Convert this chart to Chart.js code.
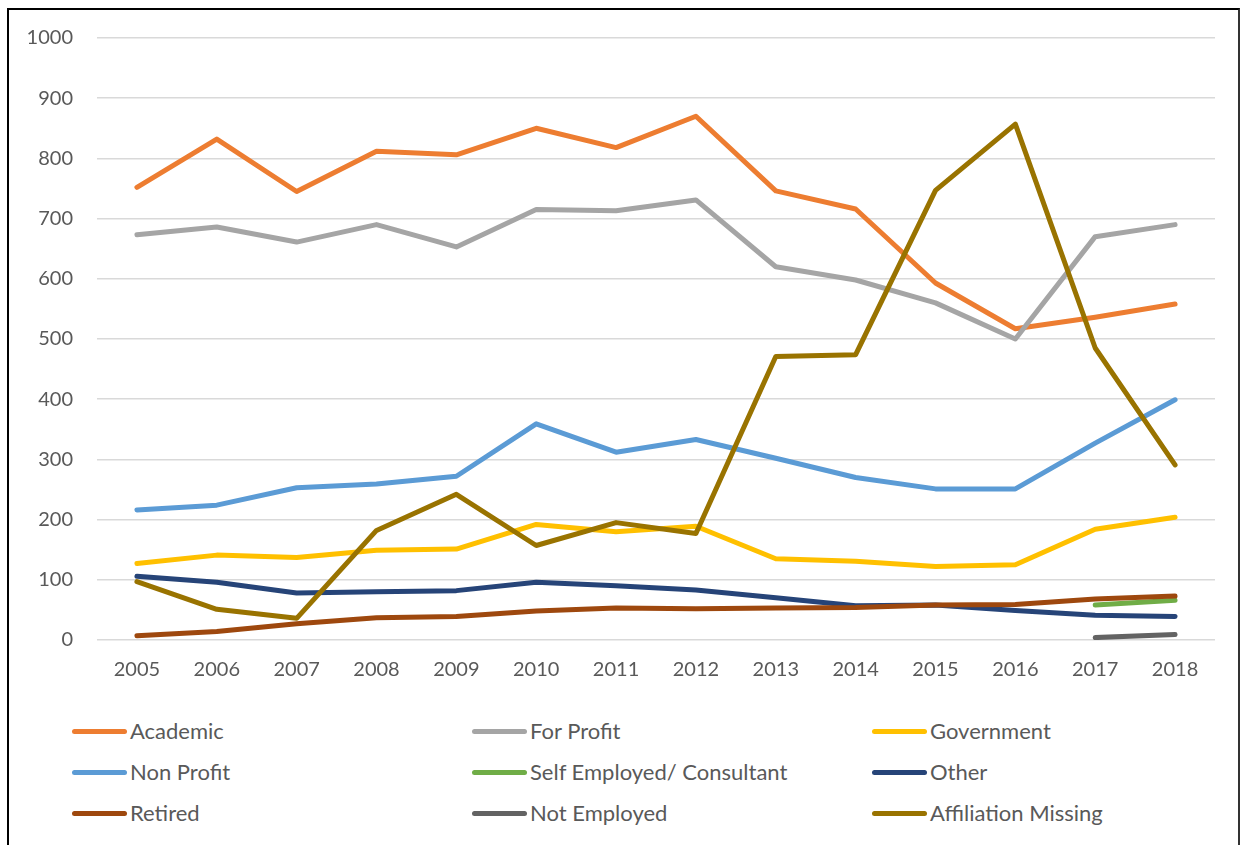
<!DOCTYPE html>
<html>
<head>
<meta charset="utf-8">
<script src="https://cdn.jsdelivr.net/npm/chart.js@4.4.0/dist/chart.umd.min.js"></script>
<style>
    body { margin: 0; background: #fff; overflow: hidden; }
    #frame {
        position: absolute; left: 7px; top: 8px; width: 1229px; height: 900px;
        border: 2px solid #000; border-right-color: #333;
    }
    #wrap { position: absolute; left: 0; top: 0; width: 1241px; height: 700px; }
    .leg { position: absolute; font-family: Lato, sans-serif; font-size: 22px; color: #595959; line-height: 24px; white-space: nowrap; }
    .leg span.sw { position: absolute; left: -58px; top: 10px; width: 55px; height: 5px; border-radius: 3px; }
</style>
</head>
<body>
<div id="frame"></div>
<div id="wrap"><canvas id="lineChart"></canvas></div>
<div id="legend"></div>
<script>
var years = ['2005', '2006', '2007', '2008', '2009', '2010', '2011', '2012', '2013', '2014', '2015', '2016', '2017', '2018'];

var academic = [752, 832, 745, 812, 806, 850, 818, 870, 746, 716, 593, 517, 536, 558];
var forProfit = [673, 686, 661, 690, 653, 715, 713, 731, 620, 598, 560, 500, 670, 690];
var government = [127, 141, 137, 149, 151, 192, 180, 189, 135, 131, 122, 125, 184, 204];
var nonProfit = [216, 224, 253, 259, 272, 359, 312, 333, 302, 270, 251, 251, 327, 399];
var selfEmployed = [null, null, null, null, null, null, null, null, null, null, null, null, 58, 66];
var other = [106, 96, 78, 80, 82, 96, 90, 83, 70, 57, 58, 49, 41, 39];
var retired = [7, 14, 27, 37, 39, 48, 53, 52, 53, 54, 58, 59, 68, 73];
var notEmployed = [null, null, null, null, null, null, null, null, null, null, null, null, 4, 9];
var affiliationMissing = [97, 51, 36, 182, 242, 157, 195, 177, 471, 474, 747, 857, 485, 291];

var seriesNames = ['Academic', 'For Profit', 'Government', 'Non Profit', 'Self Employed/ Consultant', 'Other', 'Retired', 'Not Employed', 'Affiliation Missing'];
var seriesData = [academic, forProfit, government, nonProfit, selfEmployed, other, retired, notEmployed, affiliationMissing];
var seriesColors = ['#ED7D31', '#A5A5A5', '#FFC000', '#5B9BD5', '#70AD47', '#264478', '#9E480E', '#636363', '#997300'];

var yTicks = [0, 100, 200, 300, 400, 500, 600, 700, 800, 900, 1000];

var datasets = [];
seriesNames.forEach(function(name, i) {
    datasets.push({
        label: name,
        data: seriesData[i],
        borderColor: seriesColors[i],
        backgroundColor: seriesColors[i],
        borderWidth: 5,
        pointRadius: 0,
        tension: 0,
        borderJoinStyle: 'round',
        borderCapStyle: 'round',
        spanGaps: false,
        order: seriesNames.length - i // later series on top, like excel
    });
});

var ctx = document.getElementById('lineChart');
var chart = new Chart(ctx, {
    type: 'line',
    data: { labels: years, datasets: datasets },
    options: {
        responsive: true,
        maintainAspectRatio: false,
        animation: false,
        layout: { padding: { left: 0, top: 38, right: 26, bottom: 0 } },
        plugins: { legend: { display: false }, tooltip: { enabled: false } },
        scales: {
            x: {
                offset: true,
                grid: { display: false, drawTicks: false },
                border: { display: false },
                ticks: { color: '#595959', font: { family: 'Lato', size: 20 }, padding: 18, maxRotation: 0 },
                afterFit: function(s) { s.height = 60; }
            },
            y: {
                min: 0,
                max: 1000,
                afterBuildTicks: function(s) { s.ticks = yTicks.map(function(v) { return { value: v }; }); },
                grid: { color: '#D9D9D9', lineWidth: 1.5, drawTicks: false },
                border: { display: false },
                ticks: {
                    color: '#595959', font: { family: 'Lato', size: 20 }, padding: 24,
                    callback: function(v) { return String(v); }
                },
                afterFit: function(s) { s.width = 97; }
            }
        }
    }
});

// legend in 3 columns, like the original
var legend = document.getElementById('legend');
seriesNames.forEach(function(name, i) {
    var col = i % 3;
    var row = Math.floor(i / 3);
    var item = document.createElement('div');
    item.className = 'leg';
    item.style.left = (130 + col * 400) + 'px';
    item.style.top = (719 + row * 41) + 'px';
    var sw = document.createElement('span');
    sw.className = 'sw';
    sw.style.background = seriesColors[i];
    item.appendChild(sw);
    item.appendChild(document.createTextNode(name));
    legend.appendChild(item);
});
</script>
</body>
</html>
